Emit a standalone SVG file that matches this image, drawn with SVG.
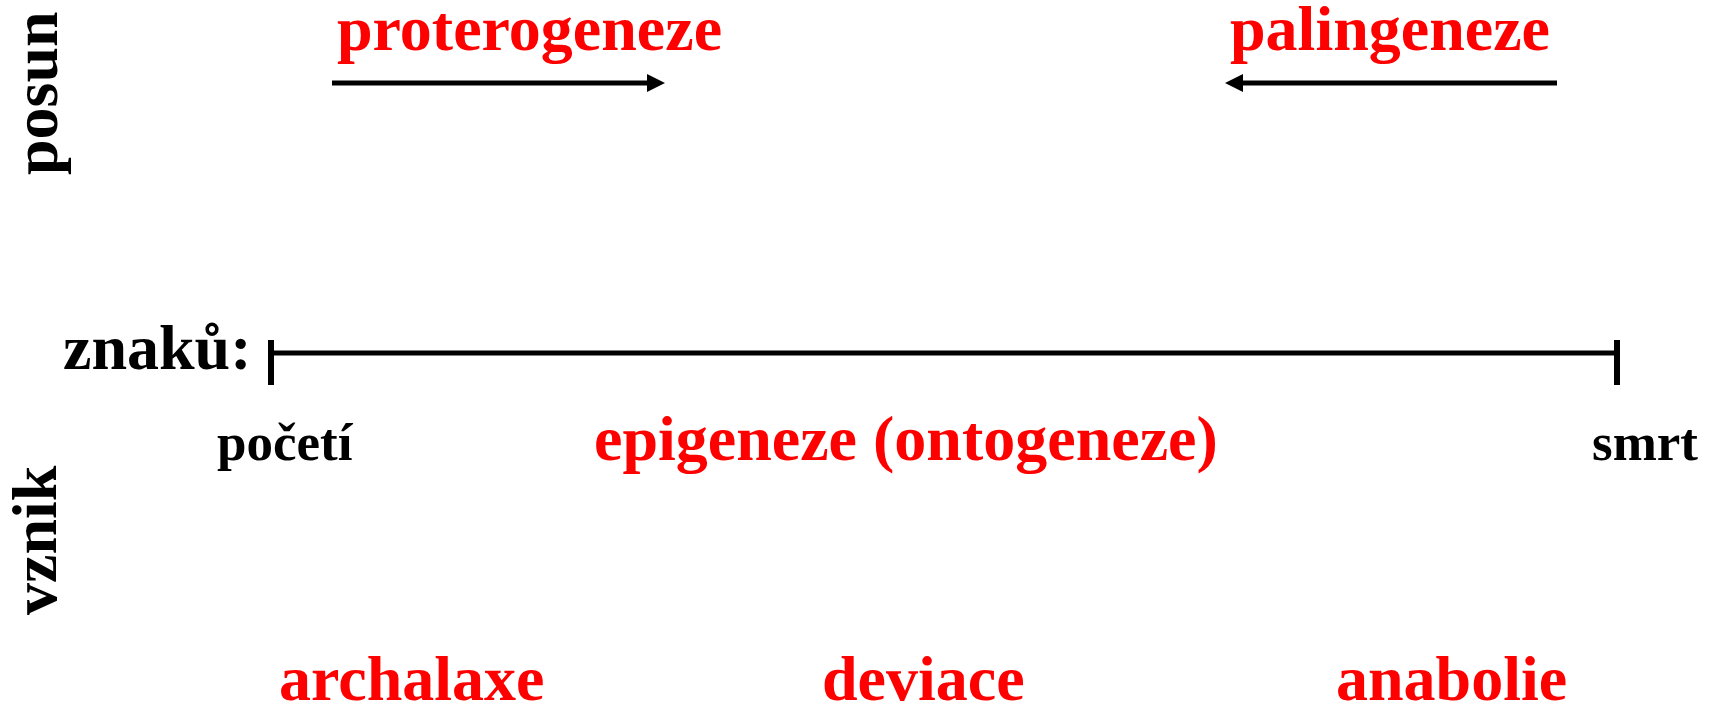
<svg xmlns="http://www.w3.org/2000/svg" width="1716" height="703" viewBox="0 0 1716 703">
<style>
text{font-family:"Liberation Serif","Times New Roman",serif;font-weight:bold}
.red{fill:#FF0000;font-size:64px}
.blk{fill:#000;font-size:64px}
.sm{fill:#000;font-size:53px}
.ln{stroke:#000;stroke-width:5;fill:none}
.tk{stroke:#000;stroke-width:6;fill:none}
</style>
<defs>
<marker id="ah" markerUnits="userSpaceOnUse" markerWidth="18" markerHeight="18" refX="0" refY="9" orient="auto">
<path d="M0,0 L18,9 L0,18 z" fill="#000"/>
</marker>
</defs>
<rect width="1716" height="703" fill="#fff"/>
<g id="axis-labels">
<text class="blk" x="57" y="175" transform="rotate(-90 57 175)">posun</text>
<text class="blk" x="56" y="615" transform="rotate(-90 56 615)">vznik</text>
<text class="blk" x="63" y="369">znaků:</text>
</g>
<g id="proterogeneze"><text class="red" x="337" y="50">proterogeneze</text></g>
<g id="palingeneze"><text class="red" x="1230" y="50">palingeneze</text></g>
<g id="poceti"><text class="sm" x="217" y="460">početí</text></g>
<g id="epigeneze"><text class="red" x="594" y="460">epigeneze (ontogeneze)</text></g>
<g id="smrt"><text class="sm" x="1592" y="460">smrt</text></g>
<g id="archalaxe"><text class="red" x="279" y="700">archalaxe</text></g>
<g id="deviace"><text class="red" x="822" y="700">deviace</text></g>
<g id="anabolie"><text class="red" x="1336" y="700">anabolie</text></g>
<g id="connectors">
<line class="ln" x1="332" y1="83" x2="647" y2="83" marker-end="url(#ah)"/>
<line class="ln" x1="1557" y1="83" x2="1243" y2="83" marker-end="url(#ah)"/>
<line class="ln" x1="271" y1="353" x2="1617" y2="353"/>
<line class="tk" x1="271" y1="340" x2="271" y2="385"/>
<line class="tk" x1="1617" y1="340" x2="1617" y2="385"/>
</g>
</svg>
